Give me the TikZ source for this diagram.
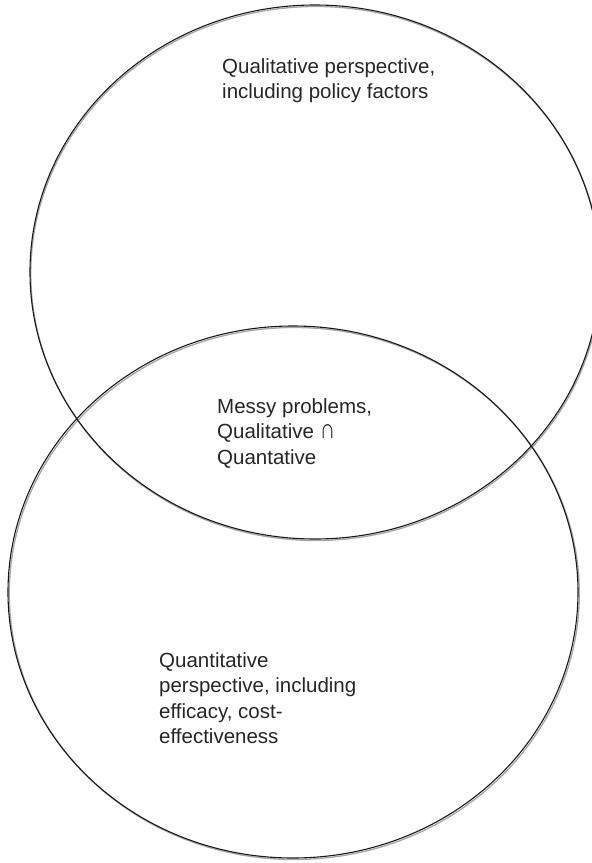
\documentclass[tikz,border=0pt]{standalone}
\usepackage{fontspec}
\setmainfont{Liberation Sans}
\newcommand{\tallcap}{\scalebox{1.05}[1.35]{∩}}
\begin{document}
\begin{tikzpicture}[x=1pt,y=-1pt,
  ring/.style={draw=black!90,line width=1.1pt},
  ringshadow/.style={draw=black!35,line width=1.3pt},
  label/.style={align=left,anchor=north west,inner sep=0pt,text=black!85,
    font=\fontsize{20.5}{25.5}\selectfont}]
\useasboundingbox (0,0) rectangle (592,863);
\begin{scope}
\clip (0,0) rectangle (592,863);
% soft grey offset behind each outline
\draw[ringshadow] (315.8,273.5) ellipse [x radius=285, y radius=267];
\draw[ringshadow] (294.3,593.5) ellipse [x radius=285, y radius=266];
% the two sets
\draw[ring] (315,272) ellipse [x radius=285, y radius=267];
\draw[ring] (293,592) ellipse [x radius=285, y radius=266];
\end{scope}
\node[label] (qual) at (222,58) {Qualitative perspective,\\including policy factors};
\node[label] (mess) at (217,398) {Messy problems,\\Qualitative \tallcap\\Quantative};
\node[label] (quant) at (159,652) {Quantitative\\perspective, including\\efficacy, cost-\\effectiveness};
\end{tikzpicture}
\end{document}
